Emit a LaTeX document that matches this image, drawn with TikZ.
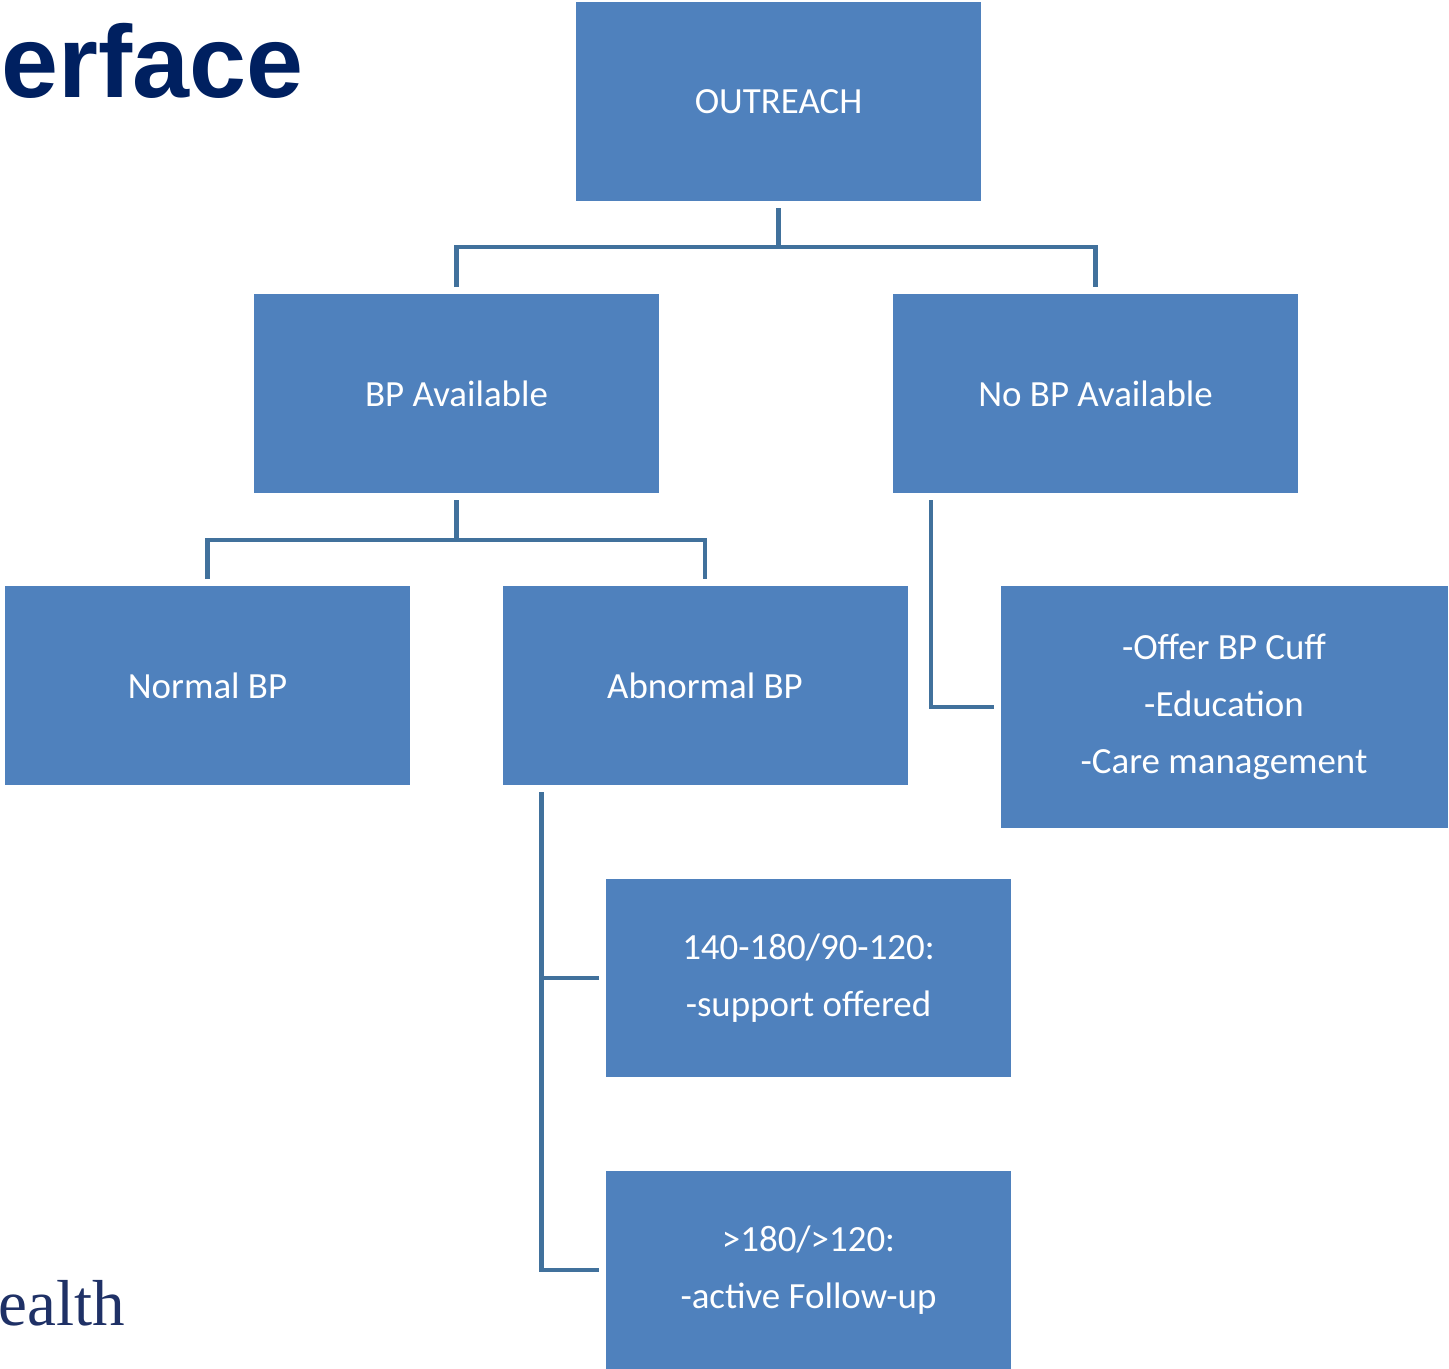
\documentclass[tikz,border=0pt]{standalone}
\usepackage{fontspec}
\setmainfont{Carlito}
\newfontfamily\titlefont{Liberation Sans}
\newfontfamily\serfont{Liberation Serif}
\usepackage{tikz}
\definecolor{boxblue}{HTML}{4F81BD}
\definecolor{lineblue}{HTML}{41719C}
\definecolor{navy}{HTML}{002060}
\definecolor{navyserif}{HTML}{1F3166}

\begin{document}
\begin{tikzpicture}[
    boite/.style={fill=boxblue, text=white, minimum width=8.1cm, minimum height=3.98cm,
                  inner sep=2pt, outer sep=0.14cm, align=center,
                  font=\fontsize{21}{32.6}\selectfont},
    lien/.style={draw=lineblue, line width=0.09cm}]
        % Cadre
        \useasboundingbox (0,0) rectangle (28.98,-27.36);
        \clip (0,0) rectangle (28.98,-27.36);
        % Textes de fond
        \node[anchor=base west, inner sep=0, text=navy, font=\titlefont\bfseries\fontsize{58.3}{60}\selectfont] (titre) at (0.02,-1.94) {erface};
        \node[anchor=base west, inner sep=0, text=navyserif, font=\serfont\fontsize{37}{38}\selectfont] (sante) at (-0.04,-26.5) {ealth};
        % Boites
        \node[boite] (out) at (15.57,-2.03) {OUTREACH};
        \node[boite] (bpa) at (9.13,-7.87) {BP Available};
        \node[boite] (nobp) at (21.91,-7.87) {No BP Available};
        \node[boite] (normal) at (4.15,-13.71) {Normal BP};
        \node[boite] (abn) at (14.10,-13.71) {Abnormal BP};
        \node[boite, minimum width=8.94cm, minimum height=4.84cm] (offer) at (24.48,-14.14) {-Offer BP Cuff\\-Education\\-Care management};
        \node[boite, minimum height=3.96cm] (mid) at (16.17,-19.56) {140-180/90-120:\\-support offered};
        \node[boite, minimum height=3.96cm] (haut) at (16.17,-25.40) {>180/>120:\\-active Follow-up};
        % Liens
        \draw[lien] (out.south) -- ++(0,-0.78) coordinate (o1);
        \draw[lien] (bpa.north) |- (o1) -| (nobp.north);
        \draw[lien] (bpa.south) -- ++(0,-0.8) coordinate (b1);
        \draw[lien] (normal.north) |- (b1) -| (abn.north);
        \draw[lien] ([xshift=0.9cm]nobp.south west) |- (offer.west);
        \draw[lien] ([xshift=0.92cm]abn.south west) |- (haut.west);
        \draw[lien] ([xshift=0.92cm]abn.south west) |- (mid.west);
    \end{tikzpicture}
\end{document}
